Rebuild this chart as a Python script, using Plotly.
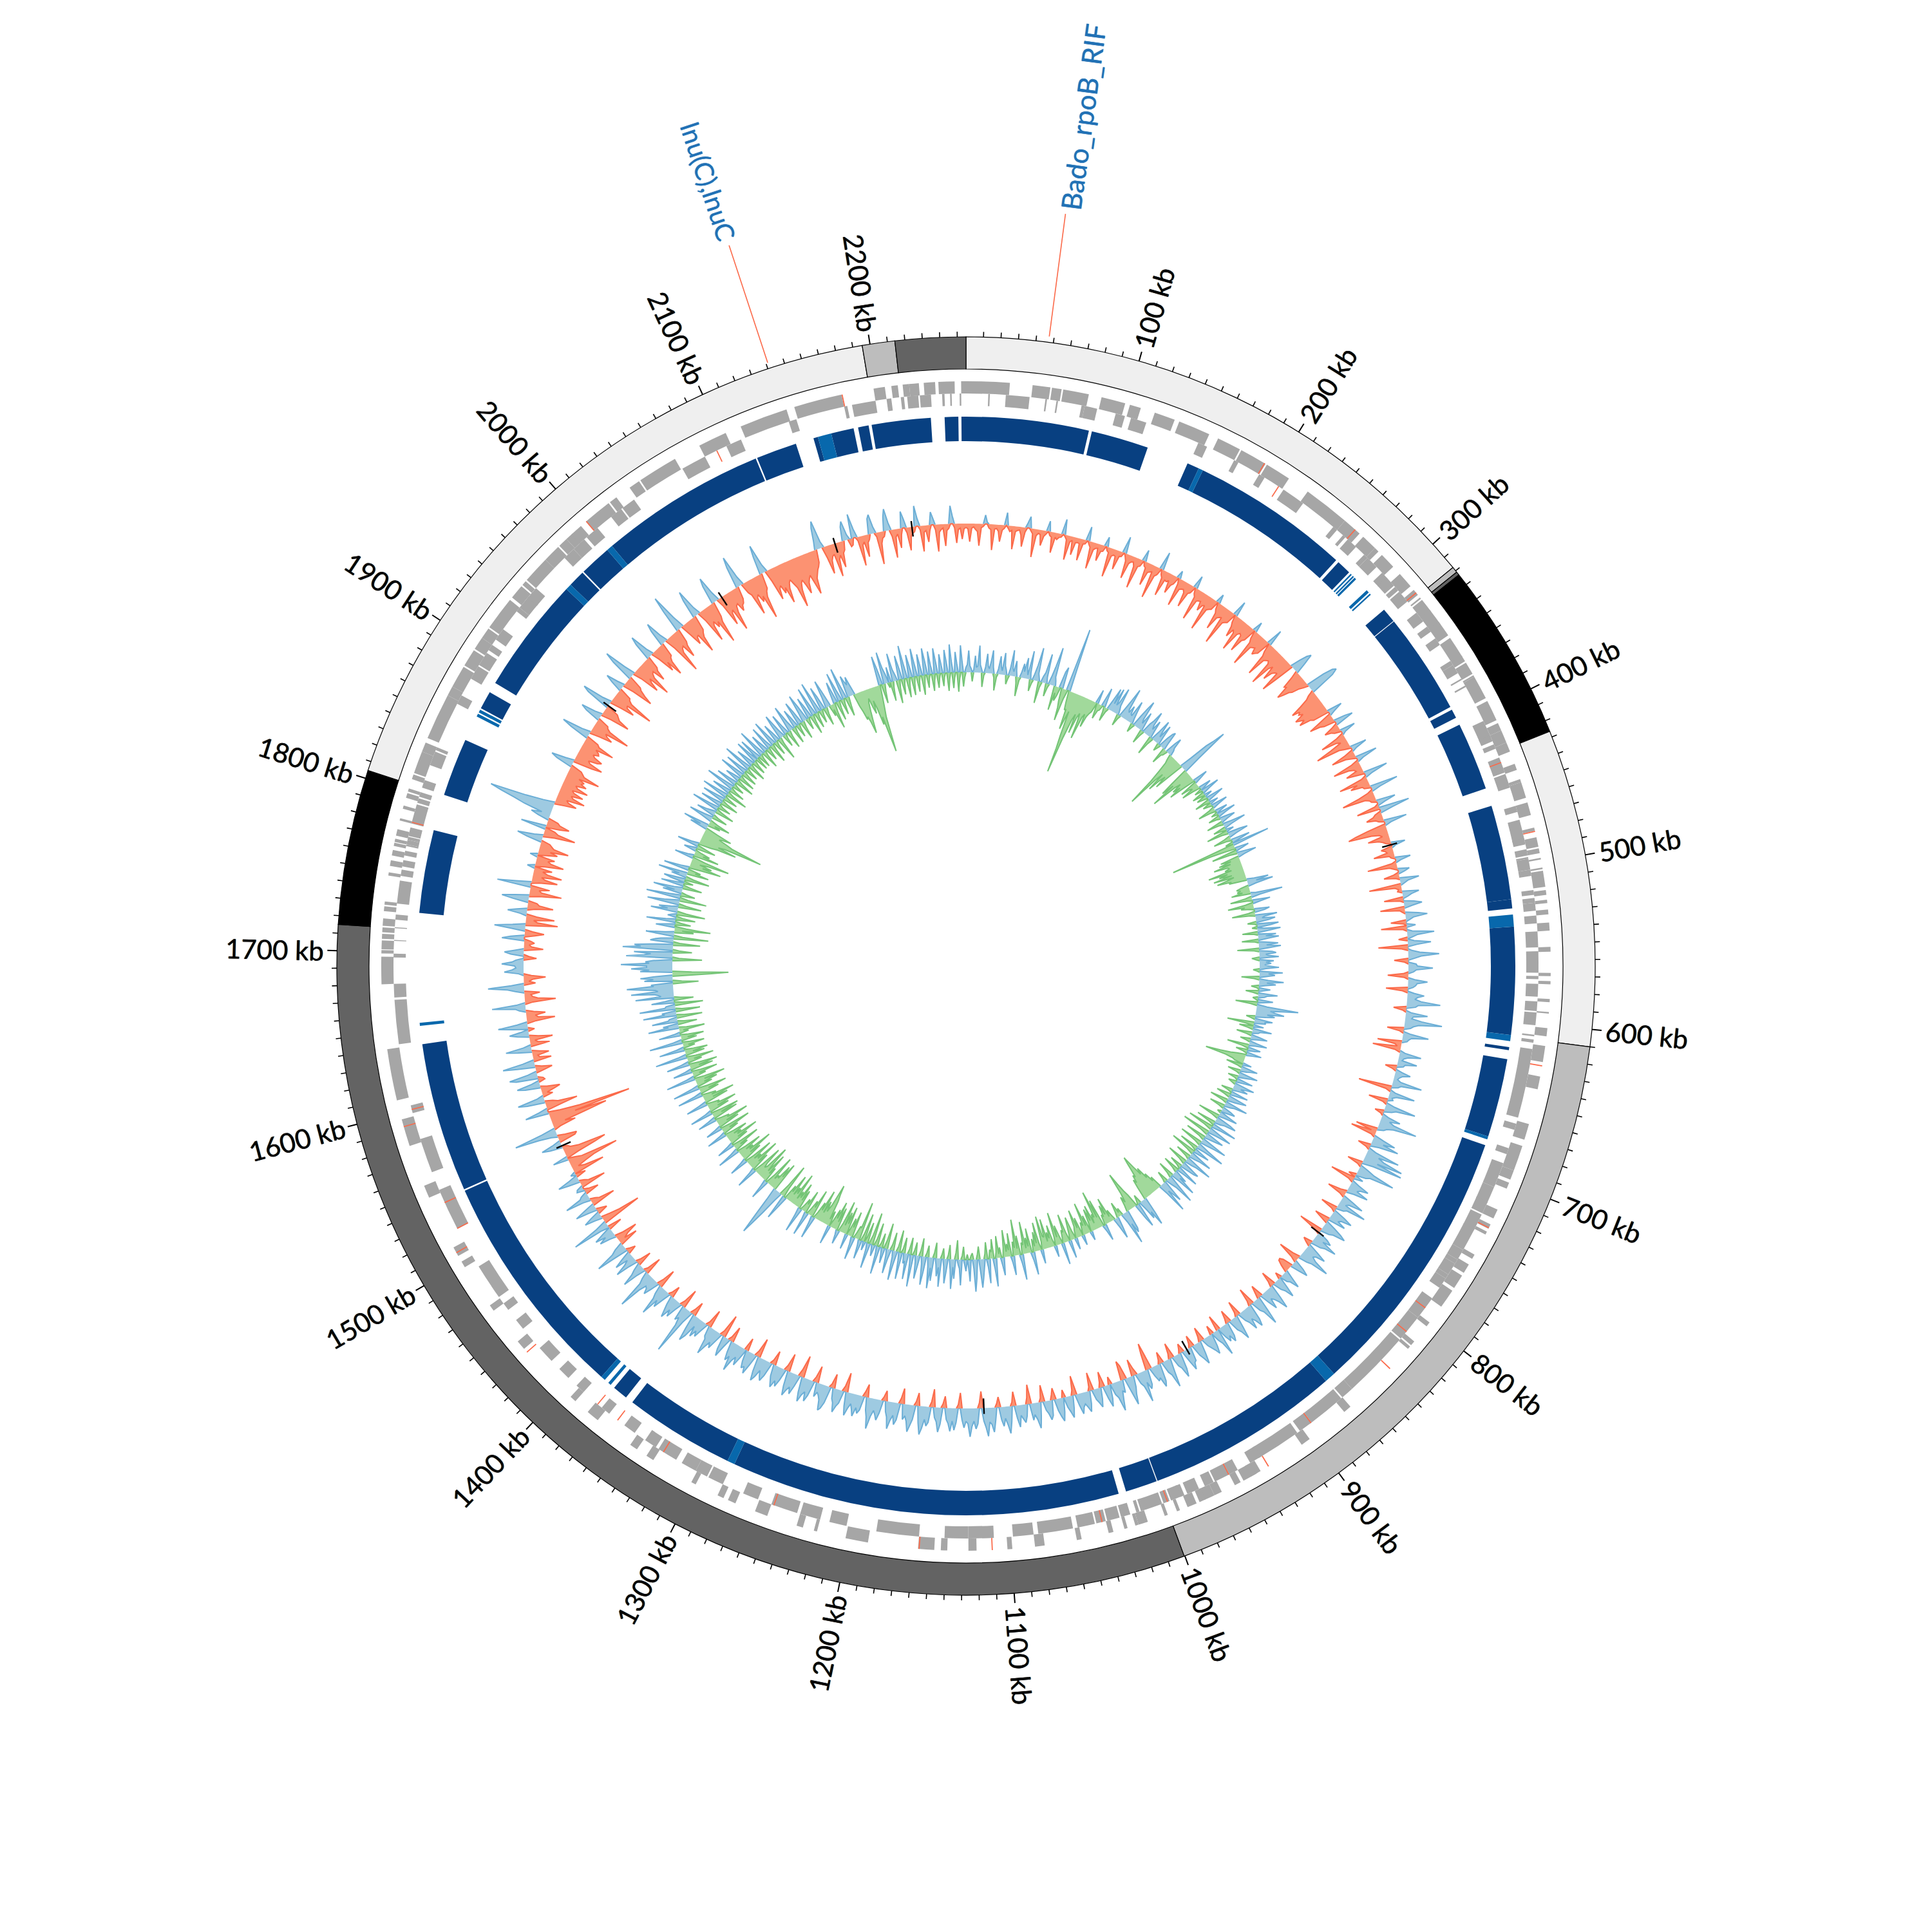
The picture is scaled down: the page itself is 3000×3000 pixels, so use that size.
import plotly.graph_objects as go
import math

GENOME_KB = 2255
CENTER_PX = 1500

# Contig ring: end position (kb) and colour of each consecutive segment
RING_ENDS = [317.6, 321, 323, 426.6, 610, 1000.4, 1715, 1804.7, 2195.5, 2214.3, 2255]
RING_COLORS = ["#efefef", "#bdbdbd", "#636363", "#000000", "#efefef", "#bdbdbd",
               "#636363", "#000000", "#efefef", "#bdbdbd", "#636363"]

GENES_FWD = [(-3,27),(41,52),(53,59),(60,76),(84,99),(102,109),(118,131),(134,154),(160,175),(176,193),(194,210),(224,253),(253,265),(268,270),(269,278),(278,281),(284,294),(300,310),(313,317),(319,320),(321,330),(329,340),(338,348),(350,364),(363,367),(368,376),(377,378),(378,393),(395,408),(410,415),(415,423),(423,429),(437,441),(447,449),(449,459),(462,470),(478,480),(484,490),(491,494),(497,498),(503,504),(505,515),(517,520),(523,525),(529,532),(537,542),(552,555),(568,570),(573,575),(584,586),(592,593),(602,607),(613,623),(632,640),(662,672),(676,692),(692,698),(700,704),(718,724),(728,731),(733,735),(749,752),(756,762),(764,773),(775,787),(799,802),(814,817),(818,820),(870,875),(902,908),(938,945),(941,950),(952,956),(965,970),(970,977),(976,980),(982,988),(993,995),(1001,1003),(1014,1020),(1020,1022),(1027,1029),(1036,1039),(1056,1059),(1079,1085),(1099,1102),(1121,1126),(1139,1143),(1147,1157),(1188,1202),(1220,1222),(1229,1233),(1252,1260),(1273,1278),(1281,1285),(1300,1303),(1330,1335),(1342,1347),(1372,1380),(1390,1394),(1435,1441),(1465,1469),(1497,1501),(1505,1511),(1545,1553),(1579,1596),(1608,1640),(1680,1697),(1699,1701),(1701.5,1707),(1708,1711),(1712,1715),(1716,1720.5),(1725,1728),(1729,1731),(1747,1749),(1753,1756.5),(1759.5,1763),(1765.5,1767.5),(1768,1770),(1772,1776),(1781.5,1783),(1789,1791),(1796,1799),(1800,1802),(1808,1811),(1812,1826),(1826,1832),(1835,1864),(1864,1870),(1870,1884),(1885,1896),(1897,1905),(1905,1912),(1913,1934),(1936,1945),(1946,1949),(1950,1967),(1967,1978),(1979,1985),(1985,1990),(1989,1997),(2001,2019),(2020,2025),(2035,2042),(2043,2068),(2085,2103),(2113,2143),(2148,2178),(2198,2205),(2209,2213),(2216,2220),(2220,2226),(2229,2236),(2238,2248)]
GENES_REV = [(14,15),(25,40),(50,51),(57,58),(73,75),(75,83),(95,101),(105,115),(150,156),(175,178),(193,197),(211,226),(250,253),(258,260),(262,269),(276,279),(279,287),(292,297),(296,303),(304,307),(308,316),(325,332),(336,340),(345,350),(362,365),(365,371),(375,376),(380,381),(405,416),(415,419),(421,424),(430,440),(441,450),(462,466),(471,484),(483,487),(490,494),(495,496),(496,503),(503,507),(516,519),(521,524),(524,529),(532,537),(542,552),(554.5,568),(570,572),(575,583),(586,592),(593,601),(607,608),(610,612),(616,660),(664,668),(680,684),(690,705),(704,706),(706,717),(716,724),(725,736),(735,750),(750,757),(757,760),(760,768),(768,771),(771,778),(786,801),(801,818),(819,862),(862,870),(871,895),(895,904),(906,935),(933,941),(950,956),(956,966),(967,973),(977,985),(987,990),(989,996),(997,1001),(1002,1016),(1017,1019),(1023,1029),(1030,1038),(1039,1045),(1046,1057),(1060,1082),(1085,1098),(1110,1126),(1126,1141),(1157,1184),(1203,1214),(1220,1233),(1235,1252),(1261,1271),(1285,1295),(1296,1304),(1304,1314),(1318,1331),(1333,1341),(1349,1357),(1369,1375),(1390,1396),(1403,1411),(1418,1429),(1445,1452),(1460,1465),(1470,1493),(1520,1547),(1559,1581),(1598,1603),(1642,1670),(1671.5,1680),(1696.6,1699),(1707,1707.6),(1715,1715.6),(1720.3,1723.6),(1730.5,1745),(1748,1752),(1754,1758),(1761,1764),(1767,1768),(1768,1771),(1771,1773),(1773.5,1779),(1781.5,1794),(1795,1798),(1799,1802),(1805,1810),(1820,1829),(1830,1832),(1862,1868),(1880,1889),(1890,1899),(1901,1905),(1909,1917),(1931,1934),(1934,1943),(1942,1950),(1976,1984),(1984,1993),(1995,2004),(2015,2023),(2024,2033),(2069,2085),(2100,2110),(2142,2147),(2178,2180),(2183,2198),(2205,2208),(2214,2216),(2218,2225),(2226,2233),(2240,2241.5),(2245,2246),(2251,2252)]
RED_FWD = [192, 261, 315, 480, 625, 730, 836, 932, 1111, 1156, 1432, 1507, 1591, 2001, 2178]
RED_REV = [207, 433, 793, 812, 895, 956, 998, 1041, 1250, 1327, 1362, 1378, 1520, 1538, 1600, 1782, 2093]

BLUE_DARK = [(-3,81),(83,121),(149,157),(160,265.4),(267.4,277),(310.4,320),(320.5,387.5),(389.5,395.5),(400.5,445.6),(457.6,520),(520,526),(538,609),(617,619),(625,677),(683,864),(871,999.7),(1000.3,1021.4),(1026.4,1283.7),(1288.7,1361.8),(1367,1377),(1388,1540),(1541,1640),(1726,1781),(1805,1843.5),(1866.5,1878.5),(1885.5,1962.6),(1966.6,1977.6),(1978.6,1999.6),(2003.6,2114),(2115,2142),(2154,2157),(2166,2181),(2184,2191),(2193,2232),(2241,2250)]
BLUE_LIGHT = [(157,160),(278.4,279.4),(280.4,281.4),(282,283.4),(293.4,295.4),(296.4,297.4),(530,538),(609,613),(677,679),(864,871),(1283.7,1288.7),(1380,1382),(1385,1388),(1652,1654),(1860.5,1862.5),(1863.5,1865.5),(1962.6,1966.6),(1999.6,2003.6),(2157,2166)]

# GC content deviation: each row covers 15 degrees of the circle
GC_CONTENT = [
 [-6,-8,-28,-7,-5,-9,-12,-34,-6,-4,14,3,-6,-8,-40,-7,-6,-10,-26,-8,-5,20,-4,-9,-7,-36,-8,-6,-5,-12,-30,-7,8,18,-4,-8,-44,-10,-6,-7,-24,-9,-5,16,-6,-8,-32,-7,-10,-6,-5,24,-3,-7,-38,-9,-6,-28,-8,-7],
 [-8,-34,-7,-6,22,-5,-9,-42,-11,-8,-7,-26,-10,-9,15,-6,-8,-46,-12,-9,-10,-30,-8,-7,26,-5,-11,-38,-13,-9,-8,-14,-48,-12,-10,18,-7,-9,-36,-14,-12,-10,-52,-15,-11,28,-8,-12,-40,-13,-14,-11,-30,-16,-12,12,-9,-44,-15,-13],
 [-12,-16,-38,-14,-11,20,-9,-13,-50,-17,-15,-14,-28,-18,-16,-56,-20,-17,-15,14,-11,-16,-42,-21,-18,-16,-60,-22,-19,-17,24,-12,-18,-34,-20,-24,-52,-22,-18,-20,-46,-25,-21,16,-13,-19,-58,-24,-22,-20,-30,-26,-23,26,-14,-21,-54,-25,-22,-20],
 [-24,-60,-28,-22,-44,-30,-26,-24,-56,-32,16,28,34,18,-12,-30,-28,-48,-40,-30,-26,-14,-8,30,45,50,40,-10,-16,-30,-48,-36,-40,-34,-50,-44,-38,-48,-30,-26,24,10,-20,-40,-24,-18,18,30,-10,-24,-14,-10,24,6,-12,-40,-16,-10,-30,-55],
 [-18,-10,26,8,-14,-38,-16,-8,34,10,-12,-44,-20,-12,-10,-28,-14,38,12,-8,-46,-18,-30,-12,-10,44,14,-8,-24,-52,-16,-10,-8,30,12,-6,-36,48,20,-10,-14,-26,-12,-8,36,10,-30,-50,-62,-26,-14,-10,-34,-18,-12,-8,22,6,-18,-12],
 [-10,-32,-8,-6,24,8,-7,-46,-12,-6,18,10,-8,-24,-6,30,12,6,-50,-10,-5,-7,26,14,8,-30,-6,16,28,12,-38,-8,-4,20,34,12,6,-24,-5,14,-40,-6,8,42,16,8,-14,10,36,14,-46,-10,6,18,48,20,10,-22,-6,12],
 [14,38,12,8,-8,-32,-6,10,30,14,12,8,-34,-8,10,26,16,12,22,52,18,14,-20,-6,8,34,12,10,26,58,22,14,10,-26,-6,12,40,14,10,8,-38,-10,-6,-44,-8,8,34,14,8,6,30,12,10,-18,-6,10,24,12,8,6],
 [12,46,14,10,-52,-8,8,40,12,6,8,-30,-6,14,48,18,12,-14,-4,10,30,14,22,60,24,14,10,-34,-8,-40,-6,16,36,18,44,14,-20,-6,12,52,20,30,62,22,64,18,-24,-6,14,26,60,22,16,-12,14,-39,-8,12,30,18],
 [14,34,12,-10,-30,-8,18,36,14,10,46,16,12,-26,-6,20,34,18,14,28,-24,-12,16,30,39,20,14,-38,-10,18,26,14,40,22,16,-14,-8,18,34,20,16,24,49,22,14,-12,-35,-10,18,28,14,-16,-21,-20,-12,14,30,16,12,-10],
 [18,34,20,14,-24,-8,22,40,26,18,14,30,16,-20,-10,24,46,22,16,-28,-8,26,36,24,18,34,20,14,-24,-6,20,38,24,18,-20,-8,22,30,18,26,16,-24,43,22,14,-14,20,32,24,18,12,-22,-8,20,36,26,18,-18,-6,22],
 [24,34,18,-14,-6,26,38,22,16,-24,-8,20,45,24,18,-18,-6,28,36,20,24,14,-42,-26,24,30,18,48,22,16,-10,-26,18,28,44,22,-22,-30,20,16,30,46,24,18,-12,22,34,20,-24,-8,18,30,22,16,-28,-6,20,32,24,18],
 [22,32,18,-30,-8,20,34,24,16,-12,22,36,28,18,-18,-8,24,30,20,14,-26,-6,22,40,26,18,26,-30,-10,18,28,22,16,34,20,-22,-6,24,42,28,18,30,20,-16,-6,20,38,26,22,44,30,20,-26,-8,24,32,20,28,44,24],
 [20,30,18,-24,-6,22,34,20,36,24,18,-18,-6,26,38,22,16,-28,-8,24,30,20,34,44,26,-20,-6,22,32,42,26,18,24,-24,-8,26,34,20,28,42,24,16,-16,-6,20,32,24,18,28,48,30,20,-20,-8,22,28,20,34,24,16],
 [24,36,22,-30,-8,20,26,36,22,16,-22,-6,26,36,40,24,18,14,22,-26,-8,24,34,20,26,38,24,-34,-12,18,32,22,28,38,24,-28,-8,18,30,22,34,26,18,-22,-6,22,32,26,18,30,38,24,-30,-8,18,34,24,28,18,-20],
 [16,30,18,26,44,22,30,18,-24,-6,14,32,22,-36,-8,14,28,20,30,44,20,16,-28,-6,12,26,18,30,14,34,44,24,-22,-8,20,76,30,18,24,-30,-8,12,28,18,34,24,14,-18,-6,14,30,20,48,22,14,-30,-10,14,26,18],
 [16,28,62,20,12,-28,-6,14,38,20,12,-24,-8,14,36,18,10,30,16,-14,-6,24,52,22,14,-30,-10,-18,-36,-12,10,26,14,30,16,-22,14,60,18,-63,-30,-14,12,28,16,-16,-8,14,34,18,-38,-14,-8,12,40,14,10,-22,-8,12],
 [10,-40,-14,-8,18,34,14,-16,8,-50,-20,-10,-24,-40,-80,-22,-12,24,-20,-50,-68,-24,-12,-8,20,32,12,-26,-30,-12,10,30,67,22,-10,-36,-20,-60,-90,-40,-130,-50,-18,37,14,-24,-50,-20,-12,28,42,10,-16,-8,-20,-30,-10,24,36,12],
 [-10,-8,34,44,14,-14,-26,-10,28,50,18,-28,-10,-8,-26,-12,22,40,12,-30,-12,-8,-36,-14,18,30,12,-10,24,46,16,-14,-44,-18,-14,-30,-12,10,16,52,14,-12,-48,-20,-12,-10,-24,14,26,56,20,-18,-8,-14,-34,-12,8,30,18,12],
 [14,34,18,12,-20,-8,20,30,14,-30,-12,-8,-16,-10,35,22,-16,-30,-12,22,48,20,-50,-18,-12,-44,-16,10,30,16,-12,-40,-18,-14,24,42,22,-16,-50,-18,-14,-30,53,24,-12,-40,-20,-14,-45,-22,-14,-28,12,-16,-44,-24,-18,-28,12,-14],
 [-30,-18,-46,-22,-18,-14,24,40,14,-18,-50,-22,-16,40,-22,-36,-20,-16,18,30,14,44,62,84,103,46,18,-16,-34,-20,-16,-44,-24,-20,-38,-22,-18,-42,-24,-20,-36,-26,-30,-20,-52,-26,-22,-18,26,36,14,-30,-46,-24,-20,-34,-40,-26,-22,-30],
 [-28,-22,-50,-24,-20,30,46,14,-16,-36,-26,-22,-60,-26,-20,-18,24,34,12,-16,-46,-28,-24,-20,38,48,14,-18,-40,-26,-24,-66,-28,-22,-20,18,30,12,-18,-50,-36,-26,-22,36,52,18,-14,-44,-30,-24,-58,-28,-22,-20,-40,-24,-20,28,40,12],
 [-14,-40,-26,-52,-30,-24,-22,26,38,12,-18,-64,-32,-26,-24,-46,-28,-22,36,60,20,-18,-38,-28,-26,-58,-34,-28,-24,30,44,12,-16,-54,-30,-24,-36,-28,-66,-32,-24,30,42,14,-12,-48,-30,-26,-62,-34,-24,-22,-36,-28,-26,-20,34,50,14,-16],
 [-22,-56,-30,-26,-40,-32,-70,-36,-28,-24,28,46,12,-18,-50,-34,-30,-44,-36,-62,-40,-32,-28,-36,-44,-76,-50,-40,-36,-46,-60,-44,-38,-34,-50,-66,-42,-36,-30,-26,-20,14,34,44,10,-18,-44,-24,-18,-16,-52,-26,-20,-40,-18,-14,22,30,8,-12],
 [-10,38,14,-6,-46,-14,-10,-34,-12,-8,24,30,10,-6,-50,-18,-10,-8,22,34,12,-10,-44,-12,-8,-30,-10,26,14,-8,-36,-14,-10,-8,32,12,-6,-40,-10,-8,-26,-9,20,10,-8,-42,-12,-8,-6,-34,-10,-7,28,12,-6,-30,-9,-7,-24,-8],
]

# GC skew: each row covers 15 degrees of the circle
GC_SKEW = [
 [8,12,34,10,6,-14,4,26,8,10,42,12,6,-22,-4,9,30,11,7,18,36,10,-6,-26,-5,8,28,12,6,34,14,8,-14,-6,10,40,12,7,24,9,-10,-30,-5,8,22,10,32,14,6,44,10,-18,-6,9,24,52,12,6,-34,-8],
 [10,16,46,10,-20,-6,12,30,60,14,8,-38,-10,-22,-14,26,34,-20,-30,-50,-14,100,40,-18,-30,-28,-60,-44,-30,-70,-90,-128,-70,-40,-30,-60,-34,-26,-40,-66,-30,-24,-44,-26,-20,-16,22,-12,-24,-10,-8,30,14,-8,-22,-6,16,36,12,38],
 [12,18,42,14,8,-18,-6,14,30,50,16,12,24,12,10,36,20,8,-14,-6,18,34,46,16,10,30,14,-22,-8,16,24,40,18,12,28,12,-30,-10,14,36,20,10,32,14,-12,-6,16,26,30,12,-26,-10,-8,18,28,12,8,-8,-14,-30],
 [-50,-93,-44,-30,-60,-40,-30,-50,-26,20,50,62,82,28,-30,-50,-30,-70,-30,-20,-36,-24,-44,-20,24,12,-28,-14,-10,-30,-12,20,10,-12,30,12,-20,-8,12,-16,-8,28,14,-24,-8,14,-14,-6,26,10,-8,-28,-10,20,8,-10,30,12,-18,-6],
 [14,24,10,-26,-8,14,36,12,-20,-8,12,-34,-10,20,32,12,-10,-28,-8,30,14,-12,59,-103,-40,-18,22,10,-40,-12,14,30,10,-30,-14,-34,-16,-44,-22,-20,-28,-18,-56,-26,-40,-20,-50,-18,-30,-46,-24,-28,12,34,14,40,12,-12,-20,-14],
 [-20,-12,-30,8,50,14,-10,-34,-8,28,12,-12,-40,-14,-20,-6,24,16,-10,-36,-8,34,14,10,30,20,-14,-4,34,22,-8,10,36,18,-24,-6,28,12,32,14,-26,-6,16,30,12,34,18,-34,-8,20,26,10,14,30,-12,-6,22,10,18,8],
 [14,30,10,-10,-4,36,14,24,12,-28,-8,14,38,12,26,10,-12,-4,18,8,-20,-8,30,14,10,-8,-4,24,12,-34,-10,16,65,40,22,30,44,18,30,16,-14,-6,28,16,18,-42,-12,16,-22,-8,30,12,10,-24,-8,14,26,10,-16,-6],
 [12,28,10,-34,-10,20,12,-18,-6,24,10,-14,-24,-40,-63,-30,-18,-14,14,-26,-8,26,16,10,-20,-6,30,18,10,-16,-4,26,12,-12,-6,32,20,12,24,10,-18,-6,28,12,-22,-8,30,22,12,-28,-8,36,16,10,-24,-8,14,22,10,-6],
 [14,30,12,-34,-10,24,34,16,10,-30,-8,40,14,-40,-12,20,38,14,-44,-12,30,20,10,-32,-8,42,24,12,-36,-10,18,46,14,-30,-8,26,12,-40,-12,36,18,10,-24,-6,44,20,12,-32,-10,30,24,12,-20,-6,36,14,-26,-8,22,12],
 [42,16,-26,-8,22,48,18,10,-18,-6,36,24,14,50,16,-20,-14,-30,-24,-44,-34,-50,-70,-60,-48,-36,-40,-28,-34,-20,28,46,22,32,12,-14,-6,40,26,-20,-30,-44,-62,-30,-14,-24,-10,30,36,20,52,14,-12,-6,-24,-10,18,34,14,-8],
 [-18,-8,-40,-14,-30,-12,-16,26,10,-44,-16,-60,-18,-24,-10,-40,-16,-36,-14,14,-28,-12,-50,-14,-20,-10,16,-30,-14,-44,-18,-12,18,-12,-36,-24,-10,28,-14,-44,-16,-20,-8,34,-14,-30,-12,-52,-14,18,-10,-34,-14,-24,-10,-46,-18,-20,-52,-12],
 [22,-10,-44,-12,-30,-8,-20,36,12,-38,-10,-24,-8,-50,-14,-18,40,14,-30,-10,-56,-12,-22,30,10,-36,-10,-20,-8,-42,-14,28,12,-16,-6,-34,-10,44,16,-30,-10,-14,38,12,-26,-8,14,30,44,20,-20,-8,30,50,14,-10,-6,34,12,-8],
 [18,8,-20,-6,40,14,8,-30,-10,30,12,46,16,-22,-6,20,38,12,-16,-6,44,14,28,10,-24,-8,36,16,48,14,-18,-6,24,44,12,-28,-8,18,36,10,-20,-6,50,14,-26,-8,40,12,16,-24,-6,42,14,-34,-8,20,46,10,-28,-8],
 [14,38,10,-40,-12,24,10,-22,-6,44,12,-36,-10,18,8,-50,-14,40,10,-32,-8,14,-44,-12,30,10,-60,-18,-20,-8,36,12,-40,-14,-28,-10,24,-44,-16,-34,-12,-50,-14,22,8,-36,-12,-44,-16,-30,-12,30,-24,-10,-40,-50,-65,-30,-18,-34],
 [-14,-50,-16,-28,-10,36,12,-44,-14,-24,-10,38,12,-36,-12,-20,-8,40,14,-30,-12,-40,-14,-24,-10,-52,-16,-26,-12,-44,-14,-24,20,40,-14,-54,-18,14,40,60,81,50,20,-47,-22,-40,-16,-20,-12,-50,-16,32,12,-24,-12,-46,-14,-28,-56,-18],
 [-14,-22,-48,-16,34,10,-30,-14,-52,-16,-24,-12,-46,-14,30,10,-32,-14,-54,-16,-24,-12,-40,-14,36,12,-22,-10,-44,-14,28,10,-30,-14,-50,-16,-24,-12,-36,-14,32,10,-26,-12,-48,-16,26,10,-34,-14,-52,-18,-22,-10,30,12,-40,-14,-44,-16],
 [36,10,-32,-14,-46,-16,-20,-10,34,12,-38,-14,-50,-14,-22,-10,40,12,-30,-14,-44,-14,42,12,-24,-12,-34,-14,-48,-16,46,12,-20,-10,-40,-14,30,10,-36,-14,-44,-16,36,12,-22,-10,-42,-14,50,14,-30,-12,-36,-14,40,12,-18,-8,-34,-12],
 [52,14,-24,-10,-36,-12,34,10,-14,-6,-40,-12,48,16,24,-30,-10,40,14,12,-40,-12,52,18,22,-38,-10,56,16,14,-44,-12,36,14,-30,-10,60,20,24,30,66,24,28,50,72,30,34,-40,-14,44,30,50,30,-60,-87,-30,50,36,64,40],
 [40,80,36,42,30,-46,-10,72,44,34,60,-30,-10,78,50,60,36,-42,-10,36,30,20,-54,-14,20,44,14,-30,-12,-56,-18,30,14,-24,-8,46,16,-30,-10,14,8,-44,-14,42,16,30,12,-36,-12,50,24,12,-42,-12,54,18,-22,-8,30,12],
 [46,14,-30,-10,36,12,-14,22,34,-38,-12,24,12,46,-34,-12,-20,40,14,-20,-50,-20,-34,-14,-26,-60,-20,30,10,-40,-14,-24,-10,20,10,-30,-14,34,12,-20,-30,-60,-30,-40,-70,-100,-50,-40,-26,-30,-44,-20,28,12,41,-20,-10,-34,-12,16],
 [38,14,-24,-8,30,16,8,-30,-10,44,16,-20,-6,34,14,-28,-10,36,16,-22,-8,42,18,-34,-10,30,14,-24,-8,46,20,-18,-6,34,14,-30,-10,24,14,-26,-8,40,18,-24,-10,36,14,-20,-6,46,16,-28,-8,30,16,-22,-8,38,14,-20],
 [36,14,-20,-6,46,16,-28,-8,30,14,-20,-8,38,12,-30,-10,42,18,-22,-6,30,16,-36,-10,24,40,12,-20,-6,34,14,-28,-8,18,42,14,-26,-8,30,16,-20,-6,38,22,-28,-10,16,44,24,-18,-6,34,20,-30,-10,46,18,-24,-8,50],
 [22,-20,-8,38,22,-28,-10,16,44,24,-18,-8,-40,-14,20,34,-30,-10,46,18,-24,-8,50,22,-30,-14,34,24,18,30,14,-20,-30,-44,-40,-50,-68,-50,-34,-20,-14,-30,-40,-20,-34,-60,-48,-80,-105,-50,-36,-20,46,26,-30,-12,50,24,14,-8],
 [24,-30,-10,44,18,10,-36,-12,38,20,-24,-8,52,22,-30,-10,36,18,-28,-10,44,20,-24,-8,34,16,-30,-12,42,22,-20,-6,36,14,-26,-10,40,20,-22,-8,30,14,-20,-6,36,18,-28,-10,44,16,-24,-8,32,14,-30,-10,42,18,-22,-8],
]

BLACK_MARKS_KB = [464, 796, 940, 1113, 1541, 1917, 2045, 2147, 2211]
GENE_LABELS = [("Bado_rpoB_RIF", 47.2), ("lnu(C),lnuC", 2141)]
TICK_LABEL_KB = list(range(100, 2201, 100))


def deg(kb):
    return kb * 360 / GENOME_KB


def add_blocks(fig, blocks, r_in, r_out, color):
    fig.add_trace(go.Barpolar(
        theta=[deg((a + b) / 2) for a, b in blocks],
        width=[deg(b - a) for a, b in blocks],
        base=[r_in] * len(blocks), r=[r_out - r_in] * len(blocks),
        marker=dict(color=color, line=dict(width=0)), hoverinfo="skip"))


def add_signal(fig, rows, r0, out_fill, out_line, in_fill, in_line):
    span = 360 / len(rows)
    th, vals = [], []
    for j, row in enumerate(rows):
        for i, v in enumerate(row):
            th.append((j + i / len(row)) * span)
            vals.append(v)
    th.append(360)
    vals.append(vals[0])
    n = len(vals)
    for sign, fill, line in ((1, out_fill, out_line), (-1, in_fill, in_line)):
        env = [r0 + sign * max(sign * v, 0) for v in vals]
        fig.add_trace(go.Scatterpolar(theta=th + th[::-1], r=env + [r0] * n,
                                      mode="lines", fill="toself", fillcolor=fill,
                                      line=dict(width=0), hoverinfo="skip"))
        rs = []
        for i, v in enumerate(vals):
            near = (sign * v > 0 or (i > 0 and sign * vals[i - 1] > 0)
                    or (i < n - 1 and sign * vals[i + 1] > 0))
            rs.append(env[i] if near else None)
        fig.add_trace(go.Scatterpolar(theta=th, r=rs, mode="lines", connectgaps=False,
                                      line=dict(color=line, width=2), hoverinfo="skip"))


def radial_segments(fig, kbs, r_in, r_out, color, width):
    th, rs = [], []
    for k in kbs:
        th += [deg(k), deg(k), None]
        rs += [r_in, r_out, None]
    fig.add_trace(go.Scatterpolar(theta=th, r=rs, mode="lines",
                                  line=dict(color=color, width=width), hoverinfo="skip"))


fig = go.Figure()

# contig ring
starts = [0] + RING_ENDS[:-1]
fig.add_trace(go.Barpolar(
    theta=[deg((a + b) / 2) for a, b in zip(starts, RING_ENDS)],
    width=[deg(b - a) for a, b in zip(starts, RING_ENDS)],
    base=[927] * len(starts), r=[50] * len(starts),
    marker=dict(color=RING_COLORS, line=dict(color="#000000", width=1.2)), hoverinfo="skip"))

# ticks
minor = [k for k in range(10, GENOME_KB, 10) if k % 100]
major = list(range(100, GENOME_KB, 100))
radial_segments(fig, minor, 977, 985, "#000000", 1.6)
radial_segments(fig, major, 977, 992, "#000000", 2)

# gene strands
add_blocks(fig, GENES_FWD, 889, 908, "#a6a6a6")
add_blocks(fig, GENES_REV, 870, 889, "#a6a6a6")
add_blocks(fig, [(k, k + 0.7) for k in RED_FWD], 889, 908, "#fb6a4a")
add_blocks(fig, [(k, k + 0.7) for k in RED_REV], 870, 889, "#fb6a4a")

# BLAST hits
add_blocks(fig, BLUE_DARK, 815, 853, "#084081")
add_blocks(fig, BLUE_LIGHT, 815, 853, "#0868ac")

# signal tracks
add_signal(fig, GC_CONTENT, 687, "#9ecae1", "#6baed6", "#fc9272", "#fb6a4a")
radial_segments(fig, BLACK_MARKS_KB, 672, 696, "#000000", 2.4)
add_signal(fig, GC_SKEW, 456, "#9ecae1", "#6baed6", "#a1d99b", "#74c476")

annotations = []


def polar_note(text, kb, r, size, color):
    a = math.radians(deg(kb))
    d = deg(kb)
    ang = d - 90 if d < 180 else d + 90
    ang = (ang + 180) % 360 - 180
    annotations.append(dict(
        x=0.5 + r * math.sin(a) / (2 * CENTER_PX), y=0.5 + r * math.cos(a) / (2 * CENTER_PX),
        xref="paper", yref="paper", xanchor="center", yanchor="middle", showarrow=False,
        text=text, textangle=ang,
        font=dict(family="Lato", size=size, color=color, shadow=f"0 0 1px {color}")))


for k in TICK_LABEL_KB:
    label = f"{k} kb"
    polar_note(label, k, 1000 + 21 * len(label) / 2, 42, "#000000")

radial_segments(fig, [k for _, k in GENE_LABELS], 986, 1178, "#fb6a4a", 1.6)
polar_note(GENE_LABELS[0][0], GENE_LABELS[0][1] + 2, 1331, 43, "#2171b5")
polar_note(GENE_LABELS[1][0], GENE_LABELS[1][1], 1282, 40, "#2171b5")

fig.update_layout(
    width=2 * CENTER_PX, height=2 * CENTER_PX, autosize=False,
    margin=dict(l=0, r=0, t=0, b=0), paper_bgcolor="#ffffff", showlegend=False,
    annotations=annotations,
    polar=dict(
        domain=dict(x=[0, 1], y=[0, 1]), bgcolor="#ffffff", barmode="overlay",
        radialaxis=dict(visible=False, range=[0, CENTER_PX]),
        angularaxis=dict(visible=False, rotation=90, direction="clockwise"),
    ),
)
fig.write_html("out.html", post_script="document.body.style.margin='0';",
               config={"displayModeBar": False})
